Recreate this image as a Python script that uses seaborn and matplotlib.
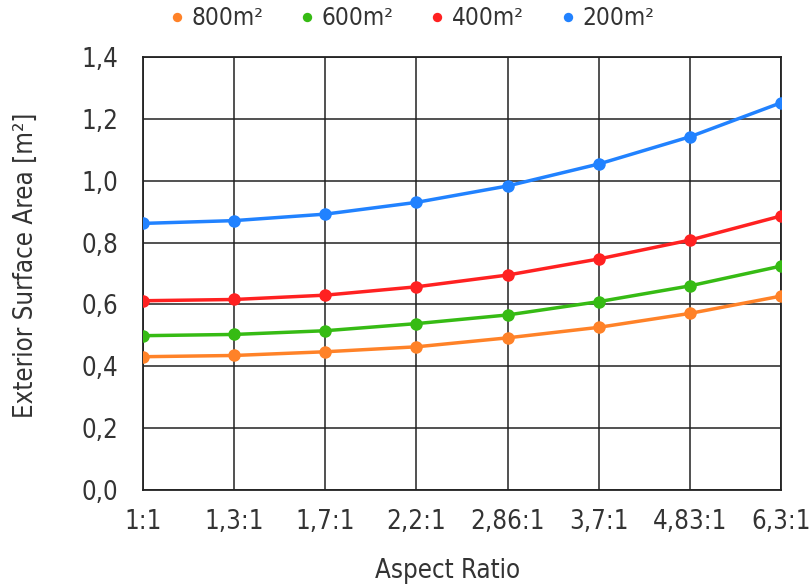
"""Exterior surface area vs aspect ratio for four floor areas."""

import matplotlib
matplotlib.use("Agg")
import matplotlib.pyplot as plt
import matplotlib.ticker as mticker
import pandas as pd
import seaborn as sns

# === Veri ===
ratios = ["1:1", "1,3:1", "1,7:1", "2,2:1", "2,86:1", "3,7:1", "4,83:1", "6,3:1"]
area_800 = [0.431, 0.435, 0.447, 0.463, 0.492, 0.526, 0.571, 0.627]
area_600 = [0.499, 0.503, 0.515, 0.538, 0.566, 0.609, 0.660, 0.724]
area_400 = [0.612, 0.616, 0.630, 0.657, 0.695, 0.747, 0.808, 0.886]
area_200 = [0.862, 0.871, 0.892, 0.930, 0.983, 1.054, 1.142, 1.252]
series_names = ["800m²", "600m²", "400m²", "200m²"]
yticks = [0.0, 0.2, 0.4, 0.6, 0.8, 1.0, 1.2, 1.4]

colors = {"800m²": "#ff8228", "600m²": "#36bb14", "400m²": "#ff2121", "200m²": "#2182ff"}

rows = []
for name, vals in zip(series_names, [area_800, area_600, area_400, area_200]):
    for r, v in zip(ratios, vals):
        rows.append({"ratio": r, "area": v, "series": name})
df = pd.DataFrame(rows)

sns.set_theme(style="white")
plt.rcParams["font.family"] = ["DejaVu Sans"]
plt.rcParams["font.stretch"] = "condensed"

TXT = "#333333"

fig = plt.figure(figsize=(8.1, 5.87), dpi=100)
ax = fig.add_axes([0.1765, 0.1652, 0.9642 - 0.1765, 0.9029 - 0.1652])

sns.lineplot(data=df, x="ratio", y="area", hue="series", hue_order=series_names,
             palette=colors, marker="o", markersize=9, markeredgewidth=0,
             linewidth=2.5, sort=False, ax=ax, zorder=3)

ax.set_xlim(0, len(ratios) - 1)
ax.set_ylim(0, 1.4)
ax.set_yticks(yticks)
ax.yaxis.set_major_formatter(mticker.FuncFormatter(lambda v, _: f"{v:.1f}".replace(".", ",")))
ax.grid(True, color="#222222", linewidth=1.1)
ax.set_axisbelow(True)
for s in ax.spines.values():
    s.set_color("#222222")
    s.set_linewidth(1.3)
ax.tick_params(axis="both", length=0, labelsize=18.5, colors=TXT)
ax.tick_params(axis="y", pad=18)
ax.tick_params(axis="x", pad=14)

ax.set_xlabel("Aspect Ratio", fontsize=18.5, color=TXT)
ax.set_ylabel("Exterior Surface Area [m²]", fontsize=18.5, color=TXT)
ax.xaxis.set_label_coords(0.478, -0.158)
ax.yaxis.set_label_coords(-0.163, 0.52)

handles, labels = ax.get_legend_handles_labels()
for h in handles:
    h.set_linestyle("none")
ax.legend(handles, labels, loc="center", bbox_to_anchor=(0.507, 0.969),
          bbox_transform=fig.transFigure, ncol=4, frameon=False, fontsize=17.5,
          handletextpad=0.2, columnspacing=1.4, handlelength=0.8, markerscale=0.75,
          labelcolor=TXT)

fig.savefig("out.png", dpi=100)
